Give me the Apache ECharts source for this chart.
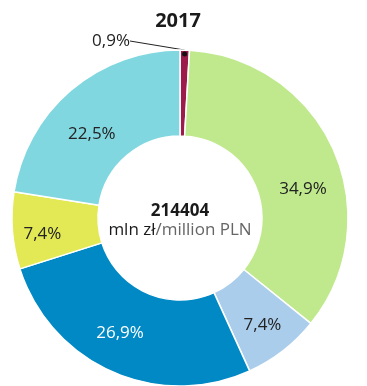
<!DOCTYPE html>
<html>
<head>
<meta charset="utf-8">
<style>
  html, body { margin: 0; padding: 0; background: #fff; }
  #chart { width: 367px; height: 386px; }
</style>
<script src="https://cdn.jsdelivr.net/npm/echarts@6/dist/echarts.min.js"></script>
</head>
<body>
<div id="chart"></div>
<script>
// Structure shares, 2017 (percent of total)
const categories = ['A', 'B', 'C', 'D', 'E', 'F'];
const shares = [0.9, 34.9, 7.4, 26.9, 7.4, 22.5];
const sliceColors = ['#9c1b4b', '#bfe98c', '#abcdec', '#0089c4', '#e2e955', '#80d7e0'];
const labelColors = ['#222', '#222', '#222', '#fff', '#222', '#222'];
const titleText = '2017';
const totalValue = '214404';
const unitMain = 'mln zł';
const unitAlt = '/million PLN';

const FONT = '"Open Sans", "Noto Sans", sans-serif';
const center = [180, 218];
const radius = [82, 168];

// nudges for the inside labels so they sit clear of the slice edges
const labelNudge = [[0, 0], [6, 23], [4, 6], [-8, -2], [-10, 7], [-5, 13]];

const fmt = v => v.toFixed(1).replace('.', ',') + '%';

const chart = echarts.init(document.getElementById('chart'), null, { renderer: 'canvas' });

const data = categories.map((c, i) => {
  const item = {
    name: c,
    value: shares[i],
    itemStyle: { color: sliceColors[i] },
    label: { color: labelColors[i] }
  };
  if (i === 0) {
    item.label = {
      position: 'outside',
      color: '#222',
      fontSize: 17
    };
    item.labelLine = {
      show: true,
      length: 0,
      length2: 0,
      lineStyle: { color: '#222', width: 1 }
    };
  }
  return item;
});

// small dot where the leader line meets the thin slice
const total = shares.reduce((a, b) => a + b, 0);
const midAngle = (90 - (shares[0] / total) * 360 / 2) * Math.PI / 180;
const dotR = radius[1] - 4;

chart.setOption({
  animation: false,
  title: {
    text: titleText,
    left: 173,
    textAlign: 'center',
    top: 6,
    textStyle: { fontFamily: FONT, fontSize: 20, fontWeight: 'bold', color: '#1a1a1a' }
  },
  graphic: [
    {
      type: 'text',
      style: {
        text: totalValue,
        fontFamily: FONT, fontSize: 17, fontWeight: 'bold',
        fill: '#1a1a1a', textAlign: 'center', textVerticalAlign: 'middle'
      },
      position: [center[0], 211]
    },
    {
      type: 'text',
      style: {
        text: '{a|' + unitMain + '}{b|' + unitAlt + '}',
        rich: {
          a: { fontFamily: FONT, fontSize: 17, fill: '#1a1a1a', color: '#1a1a1a' },
          b: { fontFamily: FONT, fontSize: 17, fill: '#666', color: '#666' }
        },
        textAlign: 'center', textVerticalAlign: 'middle'
      },
      position: [center[0], 230]
    },
    {
      type: 'circle',
      shape: {
        cx: center[0] + dotR * Math.cos(midAngle),
        cy: center[1] - dotR * Math.sin(midAngle),
        r: 2.5
      },
      style: { fill: '#111' },
      z: 10
    }
  ],
  series: [{
    type: 'pie',
    center: center,
    radius: radius,
    startAngle: 90,
    clockwise: true,
    avoidLabelOverlap: false,
    data: data,
    itemStyle: { borderColor: '#fff', borderWidth: 1.5 },
    label: {
      show: true,
      position: 'inside',
      formatter: p => fmt(p.value),
      fontFamily: FONT,
      fontSize: 17,
      color: '#222'
    },
    labelLine: { show: false },
    labelLayout: function (params) {
      const i = params.dataIndex;
      if (i === 0) {
        return { x: 111, y: 41, align: 'center', verticalAlign: 'middle' };
      }
      return { dx: labelNudge[i][0], dy: labelNudge[i][1] };
    }
  }]
});
</script>
</body>
</html>
